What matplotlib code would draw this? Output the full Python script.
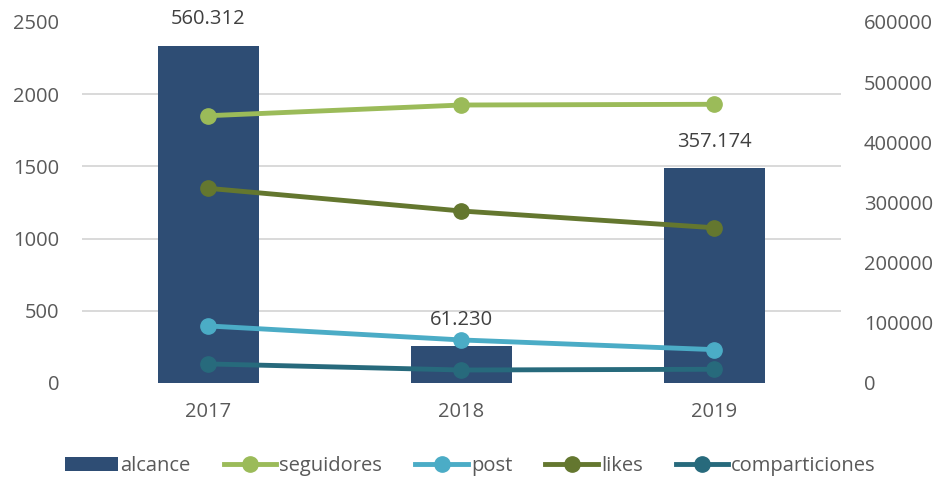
import matplotlib
matplotlib.use("Agg")
import matplotlib.pyplot as plt
from matplotlib.ticker import MultipleLocator, NullFormatter
import numpy as np

years = ["2017", "2018", "2019"]
alcance = [560312, 61230, 357174]
seguidores = [1851, 1925, 1930]
post = [395, 298, 231]
likes = [1348, 1191, 1075]
comparticiones = [132, 90, 95]

plt.rcParams['font.family'] = ['Open Sans', 'DejaVu Sans']
txt = '#595959'
fs = 14.5

fig = plt.figure(figsize=(9.41, 4.82), dpi=100)
ax = fig.add_axes([0.0871, 0.2054, 0.8066, 0.749])
ax2 = ax.twinx()
ax.set_zorder(ax2.get_zorder() + 1)
ax.patch.set_visible(False)

x = np.arange(len(years))
bars = ax2.bar(x, alcance, width=0.4, color='#2E4D74', zorder=2, label='alcance')
for xi, v in zip(x, alcance):
    ax2.annotate(f"{v:,}".replace(",", "."), (xi, v), xytext=(0, 19), textcoords='offset points',
                 ha='center', va='center', fontsize=fs, color='#404040')
ax2.set_ylim(0, 600000)
ax2.set_yticks(np.arange(0, 600001, 100000))
# gridlines follow the primary (left) axis divisions: 5 equal steps
ax2.yaxis.set_minor_locator(MultipleLocator(600000 / 5))
ax2.yaxis.set_minor_formatter(NullFormatter())
ax2.grid(axis='y', which='minor', color='#D9D9D9', linewidth=1.4, zorder=0)
ax2.grid(axis='y', which='major', visible=False)
ax2.set_axisbelow(True)

lw = 3.5
ms = 11
l1, = ax.plot(x, seguidores, color='#9BBB59', lw=lw, marker='o', ms=ms, label='seguidores')
l2, = ax.plot(x, post, color='#4BACC6', lw=lw, marker='o', ms=ms, label='post')
l3, = ax.plot(x, likes, color='#64772F', lw=lw, marker='o', ms=ms, label='likes')
l4, = ax.plot(x, comparticiones, color='#276A7C', lw=lw, marker='o', ms=ms, label='comparticiones')
ax.set_ylim(0, 2500)
ax.set_yticks(np.arange(0, 2501, 500))
ax.set_xlim(-0.5, 2.5)
ax.set_xticks(x)
ax.set_xticklabels(years)

for a in (ax, ax2):
    for s in a.spines.values():
        s.set_visible(False)
    a.tick_params(which='both', length=0, labelsize=fs, colors=txt)
ax.tick_params(axis='y', pad=16.5)
ax2.tick_params(axis='y', which='major', pad=16.5)
ax.tick_params(axis='x', pad=14)

fig.legend(handles=[bars, l1, l2, l3, l4], labels=['alcance', 'seguidores', 'post', 'likes', 'comparticiones'],
           loc='center', bbox_to_anchor=(0.5, 1 - 466 / 482), ncol=5, frameon=False, fontsize=fs,
           labelcolor=txt, handlelength=2.6, handletextpad=0.15, columnspacing=1.65)

fig.savefig('out.png', dpi=100)
